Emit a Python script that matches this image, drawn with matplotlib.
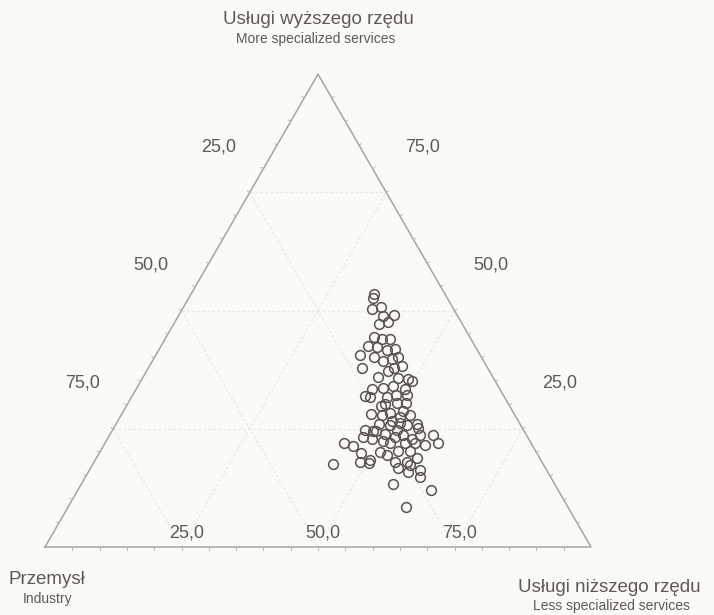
import matplotlib.pyplot as plt
import numpy as np

plt.rcParams['font.family'] = ['Liberation Sans', 'DejaVu Sans']

# employment structure of each unit, percent
higher = [53.5, 52.6, 50.3, 50.7, 48.8, 49.1, 47.2, 47.6, 44.4, 44.0,
          44.0, 42.5, 40.6, 42.3, 41.7, 41.9, 40.2, 39.4, 39.8, 40.2,
          37.9, 37.9, 36.0, 35.8, 35.6, 35.2, 33.5, 33.7, 34.1, 33.5,
          31.8, 31.8, 32.2, 32.2, 30.3, 30.5, 30.5, 28.2, 28.0, 28.4,
          27.4, 28.0, 26.1, 25.9, 26.3, 25.9, 26.1, 24.8, 24.6, 24.0,
          24.8, 25.1, 23.2, 22.9, 22.5, 23.2, 23.6, 22.9, 23.6, 23.6,
          21.9, 21.9, 21.3, 19.8, 20.0, 22.1, 21.9, 21.9, 18.3, 17.9,
          17.7, 17.5, 17.9, 17.9, 18.9, 16.8, 17.3, 16.2, 15.8, 14.7,
          13.3, 12.0, 8.4, 37.3, 38.3, 29.9, 26.7, 28.8, 24.6, 20.4,
          19.4, 20.4, 21.5, 32.0]
lower = [33.5, 33.8, 34.7, 36.1, 37.5, 39.4, 37.6, 39.0, 38.1, 39.7,
         41.2, 37.9, 37.4, 39.6, 41.8, 43.2, 40.2, 42.2, 43.7, 44.6,
         39.2, 45.0, 43.0, 46.8, 48.7, 49.6, 43.2, 45.1, 46.6, 49.2,
         43.6, 46.7, 48.2, 50.2, 47.1, 49.2, 50.8, 45.6, 47.7, 49.0,
         51.3, 52.8, 48.1, 50.3, 51.8, 53.4, 55.0, 46.2, 47.8, 50.3,
         52.1, 55.8, 46.6, 48.4, 50.6, 52.5, 53.8, 55.7, 56.9, 59.3,
         61.1, 43.9, 45.8, 48.0, 51.4, 52.1, 55.0, 56.9, 50.3, 48.8,
         50.4, 44.0, 55.2, 57.4, 58.6, 56.3, 58.2, 60.6, 58.6, 61.3,
         57.1, 64.7, 61.9, 44.2, 46.2, 46.5, 50.2, 51.2, 48.3, 56.6,
         52.9, 54.5, 58.9, 42.6]
industry = [100 - h - l for h, l in zip(higher, lower)]

tick_values = [25, 50, 75]
tick_labels = ["25,0", "50,0", "75,0"]

line_col = "#aaa2a2"
text_col = "#5e5858"
grid_col = "#e8e8e2"
bg = "#fbfbf6"
H = np.sqrt(3) / 2


def tern(ind, hi, lo):
    ind, hi, lo = (np.asarray(v, dtype=float) / 100 for v in (ind, hi, lo))
    return lo + hi / 2, hi * H


fig = plt.figure(figsize=(7.14, 6.15), dpi=100, facecolor=bg)
ax = fig.add_axes([0, 0, 1, 1])
ax.set_facecolor(bg)
ax.set_xlim(-45 / 546, 669 / 546)
ax.set_ylim(-68 / 546, 547 / 546)
ax.axis('off')

# faint grid at 25/50/75 in all three directions
for v in tick_values:
    for a, b in [((100 - v, v, 0), (0, v, 100 - v)),
                 ((100 - v, 0, v), (0, 100 - v, v)),
                 ((v, 100 - v, 0), (v, 0, 100 - v))]:
        xa, ya = tern(*a)
        xb, yb = tern(*b)
        ax.plot([xa, xb], [ya, yb], color=grid_col, lw=0.9, ls=(0, (2, 2)), zorder=1)

# triangle frame
corners = np.array([[0, 0], [1, 0], [0.5, H], [0, 0]])
ax.plot(corners[:, 0], corners[:, 1], color=line_col, lw=1.1, zorder=2)

# small ticks every 5 %, pointing outwards
tl = 0.005
tick_col = "#bdb5b5"
for k in range(1, 20):
    t = k / 20
    ax.plot([t, t], [0, -tl], color=tick_col, lw=0.7)
    xl, yl = 0.5 * t, H * t
    ax.plot([xl, xl - tl * H], [yl, yl + tl * 0.5], color=tick_col, lw=0.7)
    xr, yr = 1 - 0.5 * t, H * t
    ax.plot([xr, xr + tl * H], [yr, yr + tl * 0.5], color=tick_col, lw=0.7)

# axis value labels
fs_tick = 13
for v, lab in zip(tick_values, tick_labels):
    t = v / 100
    ax.text(t + 0.009, 0.026, lab, ha='center', va='center', fontsize=fs_tick, color=text_col)
    s = t - 0.096
    ax.text(0.5 - 0.5 * s - 0.105, H * (1 - s), lab, ha='center', va='center',
            fontsize=fs_tick, color=text_col)
    s = (1 - t) - 0.096
    ax.text(0.5 + 0.5 * s + 0.115, H * (1 - s), lab, ha='center', va='center',
            fontsize=fs_tick, color=text_col)


# vertex titles, placed in pixel terms
def px(x, y):
    return (x - 45) / 546, (547 - y) / 546


ax.text(*px(318, 20), "Usługi wyższego rzędu", ha='center', va='center', fontsize=13.5, color=text_col)
ax.text(*px(316, 39), "More specialized services", ha='center', va='center', fontsize=10, color=text_col)
ax.text(*px(9, 580), "Przemysł", ha='left', va='center', fontsize=13.5, color=text_col)
ax.text(*px(48, 599), "Industry", ha='center', va='center', fontsize=10, color=text_col)
ax.text(*px(701, 588), "Usługi niższego rzędu", ha='right', va='center', fontsize=13.5, color=text_col)
ax.text(*px(611, 606), "Less specialized services", ha='center', va='center', fontsize=10, color=text_col)

# units
x, y = tern(industry, higher, lower)
ax.plot(x, y, ls='none', marker='o', ms=7, mfc='none', mec='#5a5252', mew=1.1, zorder=3)

fig.savefig("out.png", dpi=100, facecolor=bg)
